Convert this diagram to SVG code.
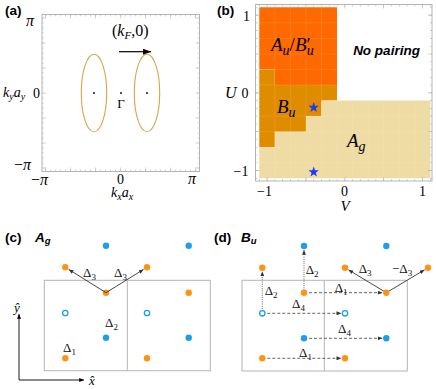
<svg xmlns="http://www.w3.org/2000/svg" width="436" height="389" viewBox="0 0 436 389">
<style>
.pl{font-family:"Liberation Sans",Arial,sans-serif;font-weight:bold;font-size:13.5px;fill:#000}
.bi{font-family:"Liberation Sans",Arial,sans-serif;font-weight:bold;font-style:italic;fill:#000}
.sr{font-family:"Liberation Serif","Times New Roman",serif;fill:#000}
.it{font-style:italic}
.d{font-family:"Liberation Serif","Times New Roman",serif;font-size:13px;fill:#111}
.s{font-size:9px}
.frame{fill:none;stroke:#b4b4b4;stroke-width:1}
.tk{fill:none;stroke:#b4b4b4}
.fs{fill:none;stroke:#dca24a;stroke-width:1.1}
.bd{fill:#1e9deb}
.bo{fill:#fff;stroke:#1e9deb;stroke-width:1.3}
.od{fill:#ff9414}
.sol{stroke:#333;stroke-width:0.9;fill:none}
.dash{stroke:#555;stroke-width:0.9;fill:none;stroke-dasharray:3 2}
.dot{stroke:#555;stroke-width:0.9;fill:none;stroke-dasharray:1 1.2}
.grid{stroke:#fff;stroke-opacity:0.18;stroke-width:0.6}
</style>
<defs>
<marker id="ah" viewBox="0 0 6 5" refX="6" refY="2.5" markerWidth="5" markerHeight="4" markerUnits="userSpaceOnUse" orient="auto"><path d="M0,0 L6,2.5 L0,5 z" fill="#333"/></marker>
<marker id="ahk" viewBox="0 0 8 6" refX="8" refY="3" markerWidth="8" markerHeight="6" markerUnits="userSpaceOnUse" orient="auto"><path d="M0,0 L8,3 L0,6 z" fill="#000"/></marker>
<marker id="aha" viewBox="0 0 6 5" refX="6" refY="2.5" markerWidth="5" markerHeight="4" markerUnits="userSpaceOnUse" orient="auto"><path d="M0,0 L6,2.5 L0,5 z" fill="#000"/></marker>
</defs>

<!-- Panel (a) -->
<g id="panel-a">
<text class="pl" x="5" y="14.5">(a)</text>
<rect class="frame" x="42" y="14.5" width="157.5" height="157"/>
<g class="tk">
<line x1="45.45" y1="15.5" x2="199.5" y2="15.5" stroke-width="2" stroke-dasharray="0.6 4.4"/>
<line x1="45.45" y1="170.5" x2="199.5" y2="170.5" stroke-width="2" stroke-dasharray="0.6 4.4"/>
<line x1="43" y1="17.7" x2="43" y2="171.5" stroke-width="2" stroke-dasharray="0.6 4.4"/>
<line x1="198.5" y1="17.7" x2="198.5" y2="171.5" stroke-width="2" stroke-dasharray="0.6 4.4"/>
<line x1="45.45" y1="16.5" x2="199.5" y2="16.5" stroke-width="4" stroke-dasharray="0.6 24.4"/>
<line x1="45.45" y1="169.5" x2="199.5" y2="169.5" stroke-width="4" stroke-dasharray="0.6 24.4"/>
<line x1="44" y1="17.7" x2="44" y2="171.5" stroke-width="4" stroke-dasharray="0.6 24.4"/>
<line x1="197.5" y1="17.7" x2="197.5" y2="171.5" stroke-width="4" stroke-dasharray="0.6 24.4"/>
</g>
<ellipse class="fs" cx="94" cy="93" rx="12.7" ry="38.7"/>
<ellipse class="fs" cx="147" cy="93" rx="12.7" ry="38.7"/>
<circle cx="94" cy="93" r="0.9" fill="#000"/>
<circle cx="121" cy="93" r="0.9" fill="#000"/>
<circle cx="147" cy="93" r="0.9" fill="#000"/>
<text class="sr" x="121" y="108" font-size="13" text-anchor="middle">Γ</text>
<line x1="119" y1="51.7" x2="151" y2="51.7" stroke="#000" stroke-width="1.2" marker-end="url(#ahk)"/>
<text class="sr" x="112" y="36" font-size="16">(<tspan class="it">k</tspan><tspan class="it" font-size="11" dy="3">F</tspan><tspan dy="-3">,0)</tspan></text>
<text class="sr it" x="26" y="26" font-size="16">π</text>
<text class="sr" x="14" y="170" font-size="16">−<tspan class="it">π</tspan></text>
<text class="sr" x="33" y="98" font-size="14">0</text>
<text class="sr it" x="3" y="97" font-size="14">k<tspan font-size="10" dy="3">y</tspan><tspan dy="-3">a</tspan><tspan font-size="10" dy="3">y</tspan></text>
<text class="sr" x="31" y="185" font-size="16">−<tspan class="it">π</tspan></text>
<text class="sr" x="120.5" y="184" font-size="14" text-anchor="middle">0</text>
<text class="sr it" x="188" y="184" font-size="16">π</text>
<text class="sr it" x="111" y="197" font-size="14">k<tspan font-size="10" dy="3">x</tspan><tspan dy="-3">a</tspan><tspan font-size="10" dy="3">x</tspan></text>
</g>

<!-- Panel (b) -->
<g id="panel-b">
<text class="pl" x="217" y="14.5">(b)</text>
<polygon fill="#ff6a00" points="259.3,7.3 337.05,7.3 337.05,85.05 274.85,85.05 274.85,69.5 259.3,69.5"/>
<polygon fill="#e08c00" points="259.3,69.5 274.85,69.5 274.85,85.05 337.05,85.05 337.05,100.6 321.5,100.6 321.5,116.15 305.95,116.15 305.95,131.7 274.85,131.7 274.85,147.25 259.3,147.25"/>
<polygon fill="#efdba4" points="321.5,100.6 430.35,100.6 430.35,178.35 259.3,178.35 259.3,147.25 274.85,147.25 274.85,131.7 305.95,131.7 305.95,116.15 321.5,116.15"/>
<g class="grid">
<path d="M274.85,7.3V178.35M290.4,7.3V178.35M305.95,7.3V178.35M321.5,7.3V178.35M337.05,100.6V178.35M352.6,100.6V178.35M368.15,100.6V178.35M383.7,100.6V178.35M399.25,100.6V178.35M414.8,100.6V178.35"/>
<path d="M259.3,22.85H337.05M259.3,38.4H337.05M259.3,53.95H337.05M259.3,69.5H337.05M259.3,85.05H337.05M259.3,116.15H430.35M259.3,131.7H430.35M259.3,147.25H430.35M259.3,162.8H430.35"/>
</g>
<rect class="frame" x="255.5" y="4.5" width="176.5" height="176.5"/>
<g class="tk">
<line x1="259" y1="5.5" x2="432" y2="5.5" stroke-width="2" stroke-dasharray="0.6 7.175"/>
<line x1="259" y1="180" x2="432" y2="180" stroke-width="2" stroke-dasharray="0.6 7.175"/>
<line x1="256.5" y1="7" x2="256.5" y2="181" stroke-width="2" stroke-dasharray="0.6 7.175"/>
<line x1="431" y1="7" x2="431" y2="181" stroke-width="2" stroke-dasharray="0.6 7.175"/>
<line x1="266.8" y1="6.5" x2="432" y2="6.5" stroke-width="4" stroke-dasharray="0.6 38.275"/>
<line x1="266.8" y1="179" x2="432" y2="179" stroke-width="4" stroke-dasharray="0.6 38.275"/>
<line x1="257.5" y1="14.8" x2="257.5" y2="181" stroke-width="4" stroke-dasharray="0.6 38.275"/>
<line x1="430" y1="14.8" x2="430" y2="181" stroke-width="4" stroke-dasharray="0.6 38.275"/>
</g>
<text class="sr" x="271" y="51" font-size="19"><tspan class="it">A</tspan><tspan class="it" font-size="14" dy="4">u</tspan><tspan dy="-4">/</tspan><tspan class="it">B</tspan><tspan>′</tspan><tspan class="it" font-size="14" dx="-4" dy="4">u</tspan></text>
<text class="bi" x="386.5" y="55" font-size="13.5" text-anchor="middle">No pairing</text>
<text class="sr it" x="277" y="113" font-size="19">B<tspan font-size="14" dy="4">u</tspan></text>
<text class="sr it" x="347" y="147" font-size="19">A<tspan font-size="14" dy="4">g</tspan></text>
<path fill="#1a3cf5" transform="translate(313.7,107.5)" d="M0,-5.5 L1.3,-1.8 L5.2,-1.7 L2.1,0.7 L3.2,4.5 L0,2.2 L-3.2,4.5 L-2.1,0.7 L-5.2,-1.7 L-1.3,-1.8 Z"/>
<path fill="#1a3cf5" transform="translate(313.7,172)" d="M0,-5.5 L1.3,-1.8 L5.2,-1.7 L2.1,0.7 L3.2,4.5 L0,2.2 L-3.2,4.5 L-2.1,0.7 L-5.2,-1.7 L-1.3,-1.8 Z"/>
<text class="sr" x="246.5" y="20.5" font-size="14" text-anchor="middle">1</text>
<text class="sr it" x="225" y="97.5" font-size="16">U</text>
<text class="sr" x="245" y="97.5" font-size="14" text-anchor="middle">0</text>
<text class="sr" x="241" y="176" font-size="14" text-anchor="middle">−1</text>
<text class="sr" x="264.5" y="196" font-size="14" text-anchor="middle">−1</text>
<text class="sr" x="344.5" y="196" font-size="14" text-anchor="middle">0</text>
<text class="sr" x="422.5" y="196" font-size="14" text-anchor="middle">1</text>
<text class="sr it" x="345" y="211" font-size="15" text-anchor="middle">V</text>
</g>

<!-- Panel (c) -->
<g id="panel-c">
<text class="pl" x="5" y="241.5">(c)</text>
<text class="bi" x="35" y="241.5" font-size="13.5">A<tspan font-size="9.5" dy="2.5">g</tspan></text>
<rect class="frame" x="44.3" y="280.3" width="166" height="90.4"/>
<line x1="127.3" y1="280.3" x2="127.3" y2="370.7" stroke="#b4b4b4" stroke-width="1"/>
<g id="c-sites">
<circle class="bd" cx="106" cy="245.7" r="3.2"/>
<circle class="bd" cx="188.7" cy="245.7" r="3.2"/>
<circle class="bd" cx="106" cy="337.7" r="3.2"/>
<circle class="bd" cx="188.7" cy="337.7" r="3.2"/>
<circle class="bo" cx="65.3" cy="313" r="2.7"/>
<circle class="bo" cx="147" cy="313" r="2.7"/>
<circle class="od" cx="65.3" cy="267.3" r="3.2"/>
<circle class="od" cx="147" cy="267.3" r="3.2"/>
<circle class="od" cx="106" cy="292.7" r="3.2"/>
<circle class="od" cx="188.7" cy="292.7" r="3.2"/>
<circle class="od" cx="65.3" cy="358.3" r="3.2"/>
<circle class="od" cx="147" cy="358.3" r="3.2"/>
</g>
<g id="c-connectors">
<line class="sol" x1="106" y1="292.7" x2="68.7" y2="269.4" marker-end="url(#ah)"/>
<line class="sol" x1="106" y1="292.7" x2="143.6" y2="269.4" marker-end="url(#ah)"/>
</g>
<text class="d" x="83" y="277.3">Δ<tspan class="s" dy="3">3</tspan></text>
<text class="d" x="114" y="277.3">Δ<tspan class="s" dy="3">3</tspan></text>
<text class="d" x="105" y="327">Δ<tspan class="s" dy="3">2</tspan></text>
<text class="d" x="63" y="351.5">Δ<tspan class="s" dy="3">1</tspan></text>
<g id="axes">
<line x1="19" y1="380" x2="19" y2="314" stroke="#000" stroke-width="0.9" marker-end="url(#aha)"/>
<line x1="19" y1="380" x2="84" y2="380" stroke="#000" stroke-width="0.9" marker-end="url(#aha)"/>
<text class="sr it" x="14" y="312" font-size="13">ŷ</text>
<text class="sr it" x="89" y="385" font-size="13">x̂</text>
</g>
</g>

<!-- Panel (d) -->
<g id="panel-d">
<text class="pl" x="214" y="241.5">(d)</text>
<text class="bi" x="241" y="241.5" font-size="13.5">B<tspan font-size="9.5" dy="2.5">u</tspan></text>
<rect class="frame" x="242" y="280.3" width="165.3" height="90.7"/>
<line x1="324.3" y1="280.3" x2="324.3" y2="371" stroke="#b4b4b4" stroke-width="1"/>
<g id="d-connectors">
<line class="dot" x1="262.3" y1="313.3" x2="262.3" y2="271.5" marker-end="url(#ah)"/>
<line class="dot" x1="304" y1="292.7" x2="304" y2="250" marker-end="url(#ah)"/>
<line class="dash" x1="304" y1="292.7" x2="382.5" y2="292.7" marker-end="url(#ah)"/>
<line class="dash" x1="262.3" y1="313.3" x2="341.3" y2="313.3" marker-end="url(#ah)"/>
<line class="dash" x1="304" y1="338.3" x2="382.5" y2="338.3" marker-end="url(#ah)"/>
<line class="dash" x1="262.3" y1="358.3" x2="341.3" y2="358.3" marker-end="url(#ah)"/>
<line class="sol" x1="386.3" y1="292.7" x2="348.4" y2="269.8" marker-end="url(#ah)"/>
<line class="sol" x1="386.3" y1="292.7" x2="424.6" y2="269.8" marker-end="url(#ah)"/>
</g>
<g id="d-sites">
<circle class="bd" cx="304" cy="246" r="3.2"/>
<circle class="bd" cx="386.3" cy="246" r="3.2"/>
<circle class="bd" cx="304" cy="338.3" r="3.2"/>
<circle class="bd" cx="386.3" cy="338.3" r="3.2"/>
<circle class="bo" cx="262.3" cy="313.3" r="2.7"/>
<circle class="bo" cx="345" cy="313.3" r="2.7"/>
<circle class="od" cx="262.3" cy="267.7" r="3.2"/>
<circle class="od" cx="345" cy="267.7" r="3.2"/>
<circle class="od" cx="428" cy="267.7" r="3.2"/>
<circle class="od" cx="304" cy="292.7" r="3.2"/>
<circle class="od" cx="386.3" cy="292.7" r="3.2"/>
<circle class="od" cx="262.3" cy="358.3" r="3.2"/>
<circle class="od" cx="345" cy="358.3" r="3.2"/>
</g>
<text class="d" x="264.7" y="295">Δ<tspan class="s" dy="3">2</tspan></text>
<text class="d" x="305.7" y="274">Δ<tspan class="s" dy="3">2</tspan></text>
<text class="d" x="334.7" y="291.7">Δ<tspan class="s" dy="3">1</tspan></text>
<text class="d" x="292" y="308.3">Δ<tspan class="s" dy="3">4</tspan></text>
<text class="d" x="338" y="333.3">Δ<tspan class="s" dy="3">4</tspan></text>
<text class="d" x="299" y="356.7">Δ<tspan class="s" dy="3">1</tspan></text>
<text class="d" x="358.7" y="273.3">Δ<tspan class="s" dy="3">3</tspan></text>
<text class="d" x="392" y="273.3">−Δ<tspan class="s" dy="3">3</tspan></text>
</g>
</svg>
